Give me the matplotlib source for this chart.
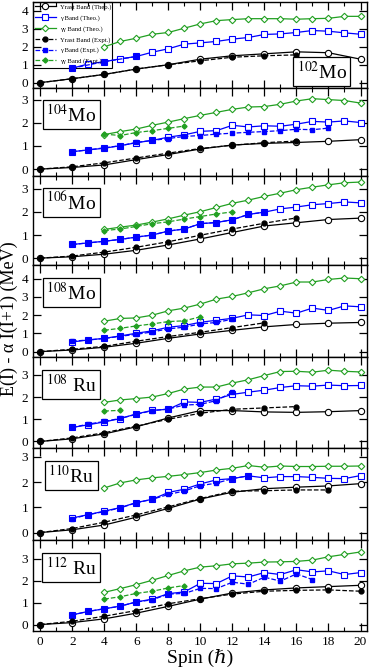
import matplotlib
matplotlib.use("Agg")
import matplotlib.pyplot as plt
from matplotlib.patches import Rectangle
from matplotlib.ticker import MultipleLocator

plt.rcParams["font.family"] = ["Liberation Serif", "DejaVu Serif"]
plt.rcParams["mathtext.fontset"] = "stix"

# spins
spin_yrast = [0, 2, 4, 6, 8, 10, 12, 14, 16, 18, 20]
spin_gamma = list(range(2, 21))
spin_gg = list(range(4, 21))

# 102Mo
mo102_yrast_th = [0, 0.22, 0.46, 0.76, 1.0, 1.31, 1.5, 1.61, 1.72, 1.67, 1.31]
mo102_yrast_ex = [0, 0.22, 0.46, 0.76, 1.0, 1.22, 1.42, 1.5, 1.55]
mo102_gamma_th = [0.81, 1.04, 1.17, 1.33, 1.46, 1.70, 1.89, 2.15, 2.22, 2.30,
                  2.43, 2.52, 2.69, 2.72, 2.80, 2.91, 2.87, 2.78, 2.70]
mo102_gamma_ex_spin = [2, 4, 6]
mo102_gamma_ex = [0.81, 1.17, 1.46]
mo102_gg_th = [2.0, 2.30, 2.48, 2.70, 2.80, 3.04, 3.28, 3.46, 3.52, 3.57,
               3.57, 3.57, 3.54, 3.57, 3.59, 3.70, 3.70]
mo102_gg_ex = []

# 104Mo
mo104_yrast_th = [0, 0.07, 0.18, 0.41, 0.63, 0.87, 1.04, 1.11, 1.15, 1.20, 1.27]
mo104_yrast_ex = [0, 0.10, 0.27, 0.48, 0.69, 0.89, 1.03, 1.14, 1.21]
mo104_gamma_th = [0.75, 0.83, 0.90, 1.01, 1.14, 1.24, 1.38, 1.48, 1.63, 1.66,
                  1.89, 1.82, 1.87, 1.85, 1.94, 2.06, 2.03, 2.08, 2.01]
mo104_gamma_ex = [0.75, 0.83, 0.92, 1.01, 1.15, 1.24, 1.32, 1.41, 1.45, 1.51,
                  1.55, 1.59, 1.62, 1.66, 1.72, 1.70, 1.77]
mo104_gg_th = [1.49, 1.62, 1.73, 1.89, 2.03, 2.18, 2.32, 2.45, 2.58, 2.68,
               2.70, 2.80, 2.94, 3.04, 3.00, 2.96, 2.85]
mo104_gg_ex = [1.51, 1.45, 1.58, 1.66, 1.76, 1.86]

# 106Mo
mo106_yrast_th = [0, 0.06, 0.17, 0.34, 0.57, 0.83, 1.11, 1.39, 1.53, 1.67, 1.73]
mo106_yrast_ex = [0, 0.09, 0.26, 0.47, 0.71, 0.99, 1.26, 1.51, 1.74]
mo106_gamma_th = [0.59, 0.66, 0.73, 0.81, 0.91, 1.0, 1.17, 1.26, 1.49, 1.54,
                  1.66, 1.89, 1.99, 2.13, 2.21, 2.31, 2.36, 2.43, 2.39]
mo106_gamma_ex = [0.59, 0.66, 0.73, 0.81, 0.91, 1.0, 1.17, 1.26, 1.49, 1.54,
                  1.66, 1.89, 1.99]
mo106_gg_th = [1.24, 1.34, 1.43, 1.56, 1.70, 1.86, 2.01, 2.19, 2.37, 2.51,
               2.67, 2.81, 2.96, 3.07, 3.17, 3.26, 3.29]
mo106_gg_ex = [1.19, 1.26, 1.37, 1.49, 1.57, 1.69, 1.80, 1.91, 2.0]

# 108Mo
mo108_yrast_th = [0, 0.09, 0.24, 0.46, 0.73, 0.97, 1.17, 1.36, 1.49, 1.56, 1.60]
mo108_yrast_ex = [0, 0.13, 0.29, 0.57, 0.83, 1.06, 1.32, 1.58]
mo108_gamma_th = [0.53, 0.64, 0.73, 0.86, 1.01, 1.14, 1.34, 1.43, 1.61, 1.72,
                  1.83, 2.02, 1.98, 2.22, 2.11, 2.39, 2.26, 2.51, 2.46]
mo108_gamma_ex = [0.57, 0.64, 0.72, 0.84, 0.95, 1.08, 1.25, 1.34, 1.52, 1.60, 1.78]
mo108_gg_th = [1.67, 1.82, 1.85, 2.0, 2.24, 2.39, 2.61, 2.88, 3.03, 3.23,
               3.45, 3.61, 3.82, 3.82, 3.96, 4.04, 4.0]
mo108_gg_ex = [1.17, 1.28, 1.41, 1.52, 1.65, 1.69, 1.91]

# 108Ru
ru108_yrast_th = [0, 0.12, 0.34, 0.66, 1.06, 1.39, 1.39, 1.33, 1.31, 1.34, 1.39]
ru108_yrast_ex = [0, 0.16, 0.39, 0.69, 1.0, 1.27, 1.45, 1.51, 1.57]
ru108_gamma_th = [0.63, 0.75, 0.88, 1.03, 1.24, 1.40, 1.45, 1.78, 1.76, 1.91,
                  2.12, 2.22, 2.31, 2.43, 2.51, 2.49, 2.54, 2.51, 2.52]
ru108_gamma_ex = [0.63, 0.78, 0.90, 1.04, 1.22, 1.39, 1.46, 1.64, 1.67, 1.84, 2.22]
ru108_gg_th = [1.76, 1.87, 1.93, 2.0, 2.16, 2.36, 2.45, 2.45, 2.63, 2.78,
               2.97, 3.15, 3.16, 3.12, 3.21, 3.16, 3.13]
ru108_gg_ex = [1.37, 1.40]

# 110Ru
ru110_yrast_th = [0, 0.11, 0.30, 0.61, 0.96, 1.33, 1.60, 1.74, 1.80, 1.85, 1.94]
ru110_yrast_ex = [0, 0.16, 0.41, 0.70, 1.02, 1.35, 1.64, 1.66, 1.69, 1.69]
ru110_gamma_th = [0.58, 0.71, 0.85, 0.99, 1.19, 1.32, 1.59, 1.72, 1.93, 2.09,
                  2.14, 2.25, 2.17, 2.22, 2.22, 2.19, 2.15, 2.14, 2.26]
ru110_gamma_ex = [0.55, 0.71, 0.83, 0.98, 1.18, 1.32, 1.51, 1.65, 1.86, 1.96, 2.14, 2.25]
ru110_gg_th = [1.77, 1.97, 2.09, 2.17, 2.23, 2.30, 2.38, 2.48, 2.55, 2.66,
               2.59, 2.64, 2.62, 2.62, 2.63, 2.63, 2.64]
ru110_gg_ex = []

# 112Ru
ru112_yrast_th = [0, 0.09, 0.26, 0.52, 0.83, 1.16, 1.44, 1.58, 1.67, 1.73, 1.79]
ru112_yrast_ex = [0, 0.15, 0.38, 0.64, 0.95, 1.18, 1.39, 1.52, 1.56, 1.58, 1.52]
ru112_gamma_th = [0.44, 0.60, 0.72, 0.84, 1.03, 1.16, 1.41, 1.49, 1.88, 1.87,
                  2.22, 2.17, 2.37, 2.28, 2.50, 2.40, 2.45, 2.28, 2.37]
ru112_gamma_ex = [0.44, 0.60, 0.72, 0.84, 1.03, 1.13, 1.39, 1.42, 1.65, 1.64,
                  1.93, 1.84, 2.16, 1.98, 2.31, 2.05]
ru112_gg_th = [1.47, 1.64, 1.82, 2.02, 2.24, 2.45, 2.62, 2.68, 2.77, 2.80,
               2.85, 2.86, 2.88, 2.94, 3.09, 3.20, 3.31]
ru112_gg_ex = [1.16, 1.27, 1.42, 1.52, 1.67, 1.78]

labels = [r"$^{102}$Mo", r"$^{104}$Mo", r"$^{106}$Mo", r"$^{108}$Mo",
          r"$^{108}$ Ru", r"$^{110}$Ru", r"$^{112}$ Ru"]
ymax = [4.5, 3.5, 3.55, 4.75, 3.8, 3.35, 3.85]
ytop_tick = [4, 3, 3, 4, 3, 3, 3]

panels = [
    (mo102_yrast_th, mo102_yrast_ex, mo102_gamma_th, (mo102_gamma_ex_spin, mo102_gamma_ex), mo102_gg_th, mo102_gg_ex),
    (mo104_yrast_th, mo104_yrast_ex, mo104_gamma_th, (spin_gamma, mo104_gamma_ex), mo104_gg_th, mo104_gg_ex),
    (mo106_yrast_th, mo106_yrast_ex, mo106_gamma_th, (spin_gamma, mo106_gamma_ex), mo106_gg_th, mo106_gg_ex),
    (mo108_yrast_th, mo108_yrast_ex, mo108_gamma_th, (spin_gamma, mo108_gamma_ex), mo108_gg_th, mo108_gg_ex),
    (ru108_yrast_th, ru108_yrast_ex, ru108_gamma_th, (spin_gamma, ru108_gamma_ex), ru108_gg_th, ru108_gg_ex),
    (ru110_yrast_th, ru110_yrast_ex, ru110_gamma_th, (spin_gamma, ru110_gamma_ex), ru110_gg_th, ru110_gg_ex),
    (ru112_yrast_th, ru112_yrast_ex, ru112_gamma_th, (spin_gamma, ru112_gamma_ex), ru112_gg_th, ru112_gg_ex),
]

blue = "#0000ff"
green = "#22a022"
lw = 0.9

fig = plt.figure(figsize=(3.71, 6.70), dpi=100)
gs = fig.add_gridspec(7, 1, left=0.089, right=0.989, top=0.997, bottom=0.058,
                      hspace=0, height_ratios=[86, 88, 89, 92, 91, 92, 91])

for i, (yth, yex, gth, gex, ggth, ggex) in enumerate(panels):
    ax = fig.add_subplot(gs[i])
    ax.plot(spin_yrast, yth, "-o", color="black", mfc="white", ms=4.5, lw=lw, mew=0.8,
            label="Yrast Band (Theo.)")
    ax.plot(spin_gamma, gth, "-s", color=blue, mfc="white", ms=4, lw=lw, mew=0.8,
            label="γ Band (Theo.)")
    ax.plot(spin_gg, ggth, "-D", color=green, mfc="white", ms=3.3, lw=lw, mew=0.8,
            label="γγ Band (Theo.)")
    ax.plot(spin_yrast[:len(yex)], yex, "--o", color="black", ms=3.5, lw=lw,
            label="Yrast Band (Expt.)")
    ax.plot(gex[0][:len(gex[1])], gex[1], "--s", color=blue, ms=3.5, lw=lw,
            label="γ Band (Expt.)")
    ax.plot(spin_gg[:len(ggex)], ggex, "--D", color=green, ms=2.6, lw=lw,
            label="γγ Band (Expt.)")

    ax.set_xlim(-0.45, 20.4)
    ax.set_ylim(-0.3, ymax[i])
    ax.xaxis.set_major_locator(MultipleLocator(2))
    ax.xaxis.set_minor_locator(MultipleLocator(1))
    ax.set_yticks(range(0, ytop_tick[i] + 1))
    ax.tick_params(which="both", direction="in", top=True, right=True, labelsize=9.5)
    ax.tick_params(which="major", length=5.5, width=0.9)
    ax.tick_params(which="minor", length=3, width=0.8)
    for s in ax.spines.values():
        s.set_linewidth(1.0)
    if i < 6:
        ax.tick_params(labelbottom=False)

    box = dict(boxstyle="square,pad=0.18", fc="white", ec="black", lw=0.9)
    if i == 0:
        ax.text(0.865, 0.19, labels[i], transform=ax.transAxes, fontsize=14,
                ha="center", va="center", bbox=box)
        # legend without fill, frame drawn as a plain rectangle like the original
        ax.legend(loc="upper left", fontsize=4.8, handlelength=3.1,
                  labelspacing=0.72, borderaxespad=0, frameon=False,
                  borderpad=0.3, handletextpad=0.6)
        ax.add_patch(Rectangle((0, 0.233), 0.237, 0.767, transform=ax.transAxes,
                               fill=False, ec="black", lw=0.8, clip_on=False))
    else:
        ax.text(0.114, 0.70, labels[i], transform=ax.transAxes, fontsize=14,
                ha="center", va="center", bbox=box)

ax.set_xlabel("Spin (ℏ)", fontsize=14, labelpad=1)
fig.text(0.025, 0.525, "E(I) - α I(I+1) (MeV)", rotation=90, fontsize=13,
         ha="center", va="center")

fig.savefig("out.png", dpi=100)
